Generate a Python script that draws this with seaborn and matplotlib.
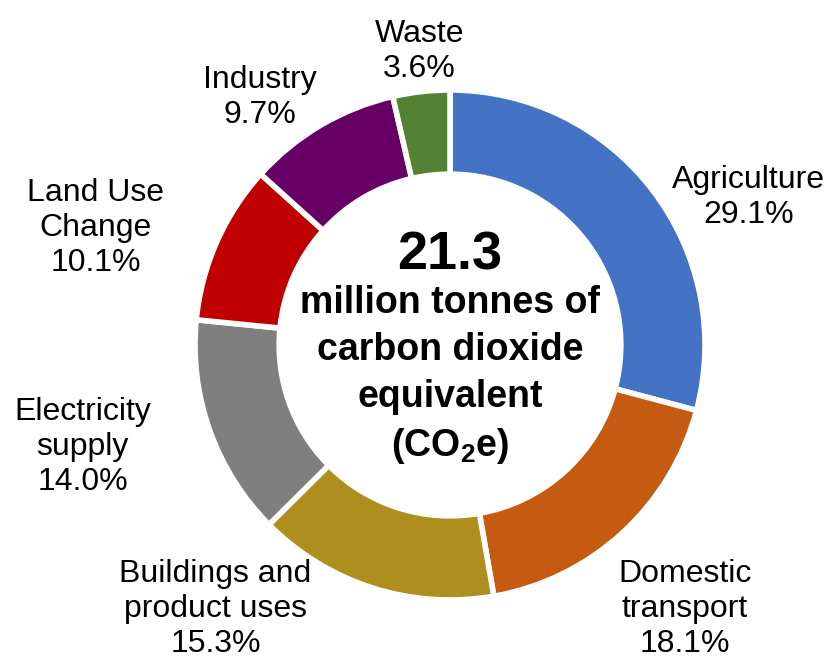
import matplotlib
matplotlib.use('Agg')
import matplotlib.pyplot as plt
import seaborn as sns

sns.set_theme(style='white')
plt.rcParams['font.family'] = ['Liberation Sans', 'DejaVu Sans']
plt.rcParams['text.color'] = 'black'
plt.rcParams['mathtext.fontset'] = 'custom'
plt.rcParams['mathtext.rm'] = 'Liberation Sans:bold'

sectors = ['Agriculture', 'Domestic\ntransport', 'Buildings and\nproduct uses',
           'Electricity\nsupply', 'Land Use\nChange', 'Industry', 'Waste']
shares = [29.1, 18.1, 15.3, 14.0, 10.1, 9.7, 3.6]
colours = ['#4472C4', '#C55A11', '#AE8F1E', '#7F7F7F', '#C00000', '#660066', '#548235']
label_pos = [(1.17, 0.58), (0.92, -1.035), (-0.92, -1.035), (-1.44, -0.4),
             (-1.39, 0.46), (-0.745, 0.97), (-0.12, 1.15)]

fig = plt.figure(figsize=(8.27, 6.6), dpi=100)
ax = fig.add_axes([(450 - 255) / 827, (660 - 345 - 255) / 660, 510 / 827, 510 / 660])
ax.pie(shares, colors=colours, startangle=90, counterclock=False, radius=1,
       wedgeprops=dict(width=0.33, edgecolor='white', linewidth=4))
ax.set_xlim(-1, 1)
ax.set_ylim(-1, 1)
ax.set_aspect('equal')
ax.axis('off')

for name, val, (x, y) in zip(sectors, shares, label_pos):
    ax.text(x, y, f'{name}\n{val:.1f}%', ha='center', va='center', fontsize=23,
            linespacing=1.22, clip_on=False, color='black')

ax.text(0, 0.35, '21.3', ha='center', va='center', fontsize=39,
        fontweight='bold', color='black')
ax.text(0, -0.12, 'million tonnes of\ncarbon dioxide\nequivalent\n(CO$_\\mathrm{2}$e)',
        ha='center', va='center', fontsize=27, fontweight='bold', linespacing=1.38,
        color='black')

fig.savefig('out.png', dpi=100)
